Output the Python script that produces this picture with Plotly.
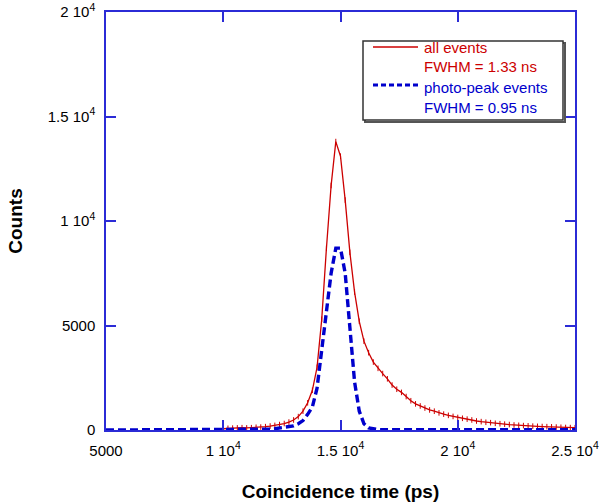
import plotly.graph_objects as go

# ---- data ----
red_x = list(range(10000, 25001, 200))
red_y = [60, 80, 90, 100, 110, 100, 110, 130, 140, 160,
         190, 220, 260, 310, 380, 480, 640, 900, 1300, 1900,
         3000, 5300, 8700, 11700, 13800, 13100, 11000, 8500, 6600, 5200,
         4250, 3700, 3250, 2950, 2700, 2450, 2150, 1950, 1800, 1600,
         1400, 1250, 1150, 1050, 960, 900, 820, 760, 700, 650,
         600, 560, 520, 480, 430, 400, 370, 350, 320, 300,
         280, 260, 240, 225, 210, 200, 185, 175, 165, 160,
         150, 140, 130, 120, 115, 110]

blue_x = list(range(5000, 25001, 200))
blue_y = ([0] * 35 +
          [40, 60, 90, 130, 170, 200, 300, 450, 750, 1100,
           2000, 3800, 5700, 7500, 8700, 8700, 7500, 4700, 2300, 900,
           300, 100, 50, 20] +
          [10] * 42)

x_ticks = [5000, 10000, 15000, 20000, 25000]
x_ticktext = ["5000", "1 10<sup>4</sup>", "1.5 10<sup>4</sup>", "2 10<sup>4</sup>", "2.5 10<sup>4</sup>"]
y_ticks = [0, 5000, 10000, 15000, 20000]
y_ticktext = ["0", "5000", "1 10<sup>4</sup>", "1.5 10<sup>4</sup>", "2 10<sup>4</sup>"]

legend_lines = [("all events", "#cc0000"), ("FWHM = 1.33 ns", "#cc0000"),
                ("photo-peak events", "#0000cc"), ("FWHM = 0.95 ns", "#0000cc")]

RED = "#cc0000"
BLUE = "#0000cc"
AXIS = "#2b2bd6"
FONT = "Liberation Sans, Arial, sans-serif"

fig = go.Figure()
fig.add_trace(go.Scatter(x=red_x, y=red_y, mode="lines+markers",
                         line=dict(color=RED, width=1.3),
                         marker=dict(symbol="line-ns-open", size=4, color=RED,
                                     line=dict(color=RED, width=1)),
                         showlegend=False))
fig.add_trace(go.Scatter(x=blue_x, y=blue_y, mode="lines",
                         line=dict(color=BLUE, width=3.4, dash="8px,4px"),
                         showlegend=False))

# legend box (drawn manually); coordinates given in pixels of the 600x502 figure
def px_x(p):
    return (p - 106) / 469.0

def px_y(p):
    return (430 - p) / 418.0

fig.add_shape(type="rect", xref="paper", yref="paper",
              x0=px_x(365), x1=px_x(565), y0=px_y(122), y1=px_y(43),
              line=dict(color="#555555", width=2), fillcolor="rgba(0,0,0,0)")
fig.add_shape(type="rect", xref="paper", yref="paper",
              x0=px_x(363), x1=px_x(563), y0=px_y(120), y1=px_y(41),
              line=dict(color="#333333", width=1.5), fillcolor="white")
fig.add_shape(type="line", xref="paper", yref="paper",
              x0=px_x(373), x1=px_x(418), y0=px_y(47), y1=px_y(47),
              line=dict(color=RED, width=1.3))
fig.add_shape(type="line", xref="paper", yref="paper",
              x0=px_x(373), x1=px_x(420), y0=px_y(85), y1=px_y(85),
              line=dict(color=BLUE, width=3, dash="5px,3px"))
for i, (txt, col) in enumerate(legend_lines):
    fig.add_annotation(xref="paper", yref="paper", x=px_x(422), y=px_y(47 + i * 20),
                       text=txt, showarrow=False, xanchor="left", yanchor="middle",
                       font=dict(family=FONT, size=15, color=col))

axis_common = dict(showline=True, linecolor=AXIS, linewidth=1.5, mirror="ticks",
                   ticks="inside", ticklen=10, tickcolor=AXIS, tickwidth=1.5,
                   showgrid=False, zeroline=False, automargin=False,
                   tickfont=dict(family=FONT, size=15, color="black"))

fig.update_layout(
    width=600, height=502,
    margin=dict(l=106, r=25, t=12, b=72),
    paper_bgcolor="white", plot_bgcolor="white",
    font=dict(family=FONT, color="black"),
    xaxis=dict(range=[5000, 25000], tickvals=x_ticks, ticktext=x_ticktext,
               ticklabelstandoff=6,
               title=dict(text="<b>Coincidence time (ps)</b>",
                          font=dict(family=FONT, size=19, color="black"), standoff=36),
               **axis_common),
    yaxis=dict(range=[0, 20000], tickvals=y_ticks, ticktext=y_ticktext,
               ticklabelstandoff=6,
               title=dict(text="<b>Counts</b>",
                          font=dict(family=FONT, size=19, color="black"), standoff=20),
               **axis_common),
)

fig.write_html("out.html",
               config={"displayModeBar": False},
               post_script="document.body.style.margin='0';document.body.style.overflow='hidden';")
